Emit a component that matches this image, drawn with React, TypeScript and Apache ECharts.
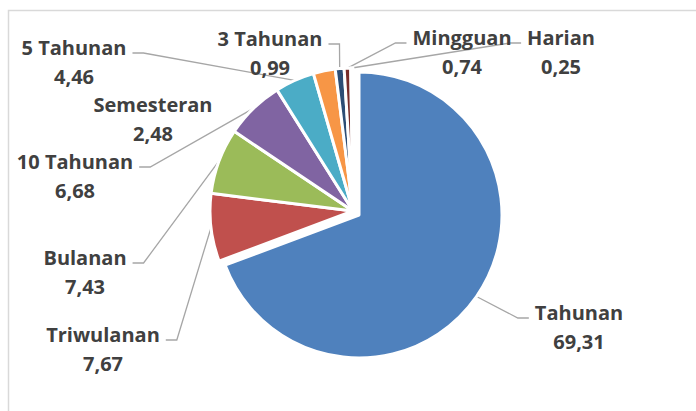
import React, { useEffect, useRef } from 'react';
import * as echarts from 'echarts';

const categories = ['Tahunan', 'Triwulanan', 'Bulanan', '10 Tahunan', '5 Tahunan', 'Semesteran', '3 Tahunan', 'Mingguan', 'Harian'];
const values = [69.31, 7.67, 7.43, 6.68, 4.46, 2.48, 0.99, 0.74, 0.25];
const colors = ['#4F81BD', '#C0504D', '#9BBB59', '#8064A2', '#4BACC6', '#F79646', '#2C4D75', '#772C2A', '#5F7530'];

// label placement (text centre) and which side the leader line leaves from
const labelCenters: number[][] = [[579, 327], [103, 349], [85, 272], [75, 176], [74, 62], [153, 119], [270, 53], [462, 52], [561, 52]];
const rightSide = [true, false, false, false, false, false, false, true, true];
const showLine = [true, true, true, true, true, false, true, true, true];

const labelStyle = {
  show: true,
  position: 'outside',
  fontFamily: 'Open Sans',
  fontWeight: 'bold',
  fontSize: 20,
  lineHeight: 29,
  color: '#404040',
  align: 'center',
  formatter: (p: any) => p.name + '\n' + Number(p.value).toFixed(2).replace('.', ','),
};

const labelLayout = (params: any) => {
  const i = params.dataIndex;
  const [cx, cy] = labelCenters[i];
  const w = params.labelRect.width;
  const ly = cy - 9;
  const endX = rightSide[i] ? cx - w / 2 - 6 : cx + w / 2 + 6;
  const elbowX = rightSide[i] ? endX - 11 : endX + 11;
  const anchor = params.labelLinePoints ? params.labelLinePoints[0] : null;
  const res: any = { x: cx, y: cy, align: 'center', verticalAlign: 'middle' };
  if (anchor) res.labelLinePoints = [anchor, [elbowX, ly], [endX, ly]];
  return res;
};

const lineStyle = { color: '#a6a6a6', width: 1.3 };

export default function App() {
  const ref = useRef<HTMLDivElement>(null);
  useEffect(() => {
    if (!ref.current) return;
    const chart = echarts.init(ref.current, null, { renderer: 'svg' });
    const base = {
      type: 'pie',
      radius: 143,
      startAngle: 90,
      clockwise: true,
      avoidLabelOverlap: false,
      emphasis: { disabled: true },
      itemStyle: { borderColor: '#ffffff', borderWidth: 3 },
      labelLine: { show: true, length: 10, length2: 10, lineStyle },
      labelLayout,
    };
    chart.setOption({
      animation: false,
      backgroundColor: '#ffffff',
      graphic: [
        {
          type: 'rect',
          shape: { x: 8.5, y: 10.5, width: 720, height: 440 },
          style: { fill: 'none', stroke: '#d9d9d9', lineWidth: 1.5 },
          silent: true,
        },
      ],
      series: [
        {
          ...base,
          center: [353, 211],
          label: labelStyle,
          data: categories.map((name, i) => ({
            name,
            value: values[i],
            itemStyle: i === 0 ? { color: 'rgba(0,0,0,0)', borderWidth: 0 } : { color: colors[i] },
            label: { show: i !== 0 },
            labelLine: { show: i !== 0 && showLine[i] },
          })),
        },
        {
          ...base,
          // the exploded "Tahunan" slice
          center: [359, 215],
          label: labelStyle,
          data: categories.map((name, i) => ({
            name,
            value: values[i],
            itemStyle: i === 0 ? { color: colors[i] } : { color: 'rgba(0,0,0,0)', borderWidth: 0 },
            label: { show: i === 0 },
            labelLine: { show: i === 0 },
          })),
        },
      ],
    });
    return () => chart.dispose();
  }, []);
  return (
    <div
      ref={ref}
      style={{ position: 'fixed', left: 0, top: 0, width: 696, height: 411, background: '#fff' }}
    />
  );
}
